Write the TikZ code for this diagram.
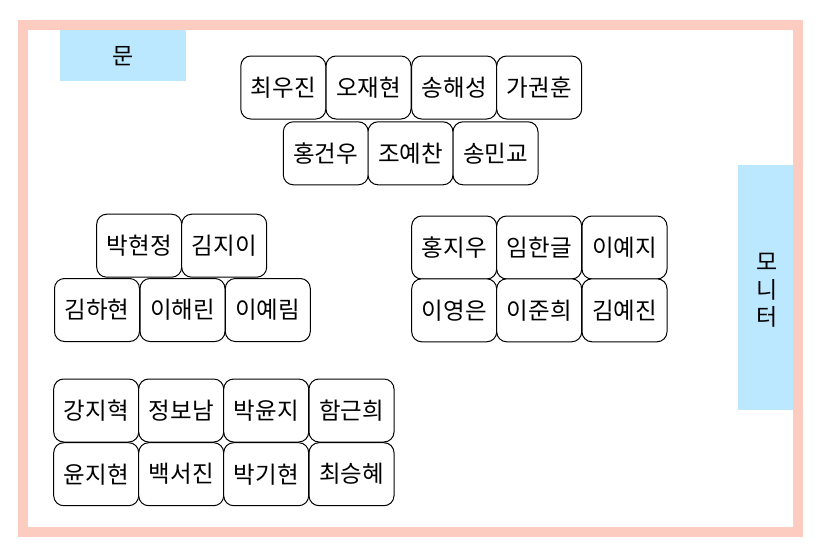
\documentclass[tikz,border=0pt]{standalone}
\usepackage{fontspec}
\newfontfamily\kr{Noto Sans CJK KR}
\definecolor{wallpink}{RGB}{252,204,192}
\definecolor{skyblue}{RGB}{187,232,254}
\begin{document}
\begin{tikzpicture}[x=1pt,y=-1pt,
  seat/.style={draw=black,line width=1pt,rounded corners=10pt,fill=white,
    minimum width=85pt,minimum height=63pt,inner sep=0pt,
    font=\kr\fontsize{23.5}{27}\selectfont},
  fixture/.style={fill=skyblue,draw=none,inner sep=0pt,
    font=\kr\fontsize{23}{27.5}\selectfont,align=center}]
\useasboundingbox (0,0) rectangle (820,549);
\fill[white] (0,0) rectangle (820,549);
% fixtures
\node[fixture,minimum width=126pt,minimum height=51pt] (door) at (123,55.5) {};
\node[font=\kr\fontsize{23}{27.5}\selectfont,inner sep=0pt] (doortext) at (123,56) {문};
\node[fixture,minimum width=56pt,minimum height=245pt] (monitor) at (766.3,287.5) {};
\node[font=\kr\fontsize{23}{27.5}\selectfont,align=center,inner sep=0pt] (montext) at (767.5,290.5) {모\\니\\터};
% wall
\draw[wallpink,line width=10pt] (23,25) rectangle (797.7,531.7);
% front group
\node[seat] (a1) at (283.3,87.5) {최우진};
\node[seat] (a2) at (368.5,87.5) {오재현};
\node[seat] (a3) at (454.2,87.5) {송해성};
\node[seat] (a4) at (539.2,87.5) {가권훈};
\node[seat] (a5) at (325.8,153.3) {홍건우};
\node[seat] (a6) at (410.5,153.3) {조예찬};
\node[seat] (a7) at (495.5,153.3) {송민교};
% left middle group
\node[seat] (b1) at (139.2,245.7) {박현정};
\node[seat] (b2) at (224.2,245.7) {김지이};
\node[seat] (b3) at (97,310) {김하현};
\node[seat] (b4) at (182.5,310) {이해린};
\node[seat] (b5) at (267.8,310) {이예림};
% right middle group
\node[seat] (c1) at (454.2,247.5) {홍지우};
\node[seat] (c2) at (539.2,247.5) {임한글};
\node[seat] (c3) at (624.5,247.5) {이예지};
\node[seat] (c4) at (454.2,310.3) {이영은};
\node[seat] (c5) at (539.2,310.3) {이준희};
\node[seat] (c6) at (624.5,310.3) {김예진};
% back group
\node[seat] (d1) at (96.2,410.5) {강지혁};
\node[seat] (d2) at (181.2,410.5) {정보남};
\node[seat] (d3) at (266.2,410.5) {박윤지};
\node[seat] (d4) at (351.5,410.5) {함근희};
\node[seat] (d5) at (96.2,474.2) {윤지현};
\node[seat] (d6) at (181.2,474.2) {백서진};
\node[seat] (d7) at (266.2,474.2) {박기현};
\node[seat] (d8) at (351.5,474.2) {최승혜};
\end{tikzpicture}
\end{document}
